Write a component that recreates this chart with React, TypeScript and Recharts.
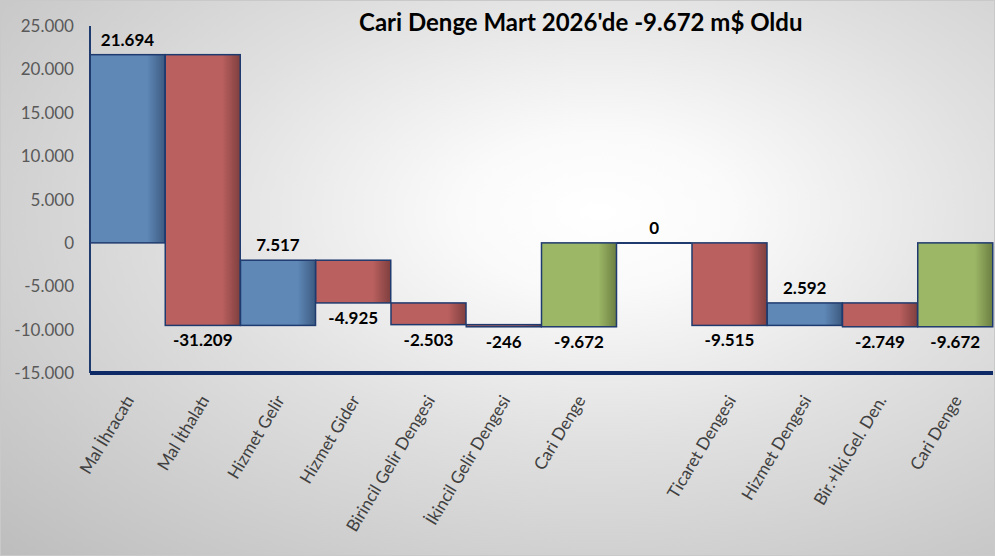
import React from "react";
import { BarChart, Bar, XAxis, YAxis } from "recharts";

const categories = [
  "Mal İhracatı",
  "Mal İthalatı",
  "Hizmet Gelir",
  "Hizmet Gider",
  "Birincil Gelir Dengesi",
  "İkincil Gelir Dengesi",
  "Cari Denge",
  "",
  "Ticaret Dengesi",
  "Hizmet Dengesi",
  "Bir.+İki.Gel. Den.",
  "Cari Denge",
];

// m$ values shown on the bars
const values = [21694, -31209, 7517, -4925, -2503, -246, -9672, 0, -9515, 2592, -2749, -9672];

// base: starts at zero, delta: continues from previous, total: sum bar from zero, blank: spacer
const barKinds = ["base", "delta", "delta", "delta", "delta", "delta", "total", "blank", "base", "delta", "delta", "total"];

const yTicks = [-15000, -10000, -5000, 0, 5000, 10000, 15000, 20000, 25000];

const FONT = "Lato, Carlito, Calibri, sans-serif";
const NAVY = "#1F3A6E";

const COLORS: Record<string, [string, string]> = {
  up: ["#5F88B7", "#3C5A80"],
  down: ["#BA605F", "#7E3F3E"],
  total: ["#9CB766", "#6B7E42"],
};

// 12345 -> "12.345"
const fmt = (v: number) => {
  const s = Math.abs(Math.round(v))
    .toString()
    .replace(/\B(?=(\d{3})+(?!\d))/g, ".");
  return (v < 0 ? "-" : "") + s;
};

let running = 0;
const data = categories.map((name, i) => {
  const v = values[i];
  const kind = barKinds[i];
  let low = 0;
  let high = v;
  if (kind === "delta") {
    low = running;
    high = running + v;
  }
  running = high;
  return {
    name,
    value: v,
    kind,
    range: [Math.min(low, high), Math.max(low, high)],
  };
});

const WaterfallBar = (props: any) => {
  const { x, y, width, height, payload, index } = props;
  const top = Math.min(y, y + height);
  const h = Math.abs(height);
  const v = payload.value;
  const colorKey = payload.kind === "total" ? "total" : v >= 0 ? "up" : "down";
  const [c1, c2] = COLORS[colorKey];
  const gid = `wf-grad-${index}`;
  const labelY = v >= 0 ? top - 9 : top + h + 21;

  return (
    <g>
      <defs>
        <linearGradient id={gid} x1="0" y1="0" x2="1" y2="0">
          <stop offset="0%" stopColor={c1} />
          <stop offset="76%" stopColor={c1} />
          <stop offset="100%" stopColor={c2} />
        </linearGradient>
      </defs>
      {payload.kind === "blank" || h < 0.5 ? (
        <line x1={x} x2={x + width} y1={top} y2={top} stroke={NAVY} strokeWidth={2} />
      ) : (
        <rect x={x} y={top} width={width} height={h} fill={`url(#${gid})`} stroke={NAVY} strokeWidth={1.5} />
      )}
      <text
        x={x + width / 2}
        y={labelY}
        textAnchor="middle"
        fontFamily={FONT}
        fontWeight="bold"
        fontSize={17}
        fill="#000"
      >
        {fmt(v)}
      </text>
    </g>
  );
};

const AngleTick = (props: any) => {
  const { x, y, payload } = props;
  if (!payload.value) return null;
  return (
    <text
      transform={`translate(${x + 7},${y + 19}) rotate(-59)`}
      textAnchor="end"
      fontFamily={FONT}
      fontSize={17}
      fill="#404040"
    >
      {payload.value}
    </text>
  );
};

export default function App() {
  return (
    <div
      style={{
        position: "absolute",
        left: 0,
        top: 0,
        width: 995,
        height: 556,
        boxSizing: "border-box",
        border: "1px solid #c9c9c9",
        background:
          "radial-gradient(ellipse at 60% 38%, #ffffff 0%, #fafafa 16%, #e0e0e0 48%, #cdcdcd 76%, #bdbdbd 100%)",
        overflow: "hidden",
      }}
    >
      <div
        style={{
          position: "absolute",
          left: 358,
          top: 6,
          fontFamily: FONT,
          fontWeight: "bold",
          fontSize: 24,
          color: "#000",
          whiteSpace: "nowrap",
        }}
      >
        Cari Denge Mart 2026'de -9.672 m$ Oldu
      </div>
      <div style={{ position: "absolute", left: -1, top: -1 }}>
        <BarChart
          width={995}
          height={556}
          data={data}
          margin={{ top: 26, right: 2, bottom: 0, left: 0 }}
          barCategoryGap={0}
          barGap={0}
        >
          <YAxis
            width={90}
            domain={[-15000, 25000]}
            ticks={yTicks}
            allowDataOverflow
            tickFormatter={fmt}
            tickLine={false}
            tickSize={6}
            tickMargin={10}
            axisLine={{ stroke: NAVY, strokeWidth: 2 }}
            tick={{ fontFamily: FONT, fontSize: 17, fill: "#595959" }}
          />
          <XAxis
            dataKey="name"
            height={183}
            interval={0}
            tickLine={false}
            axisLine={{ stroke: "#0E2A66", strokeWidth: 4 }}
            tick={<AngleTick />}
          />
          <Bar dataKey="range" shape={<WaterfallBar />} isAnimationActive={false} />
        </BarChart>
      </div>
    </div>
  );
}
